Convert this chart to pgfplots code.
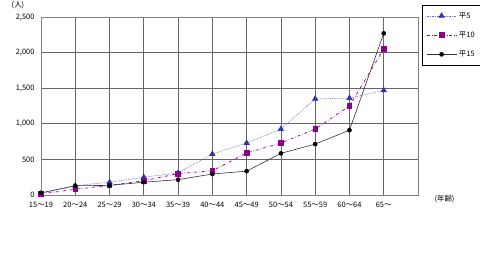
\documentclass[border=0pt]{standalone}
\usepackage{fontspec}
\setmainfont{Noto Sans CJK JP}
\usepackage{pgfplots}
\pgfplotsset{compat=1.18}
\definecolor{c5}{RGB}{50,50,170}
\definecolor{c10}{RGB}{140,0,140}
\begin{document}
\begin{tikzpicture}
\useasboundingbox (-41bp,-71bp) rectangle (439bp,195bp);
\begin{axis}[
  at={(0,0)}, anchor=origin,
  scale only axis, width=377bp, height=178bp,
  xmin=0, xmax=11, ymin=0, ymax=2500,
  xtick={0,...,11},
  xticklabels={15～19,20～24,25～29,30～34,35～39,40～44,45～49,50～54,55～59,60～64,65～},
  ytick={0,500,1000,1500,2000,2500},
  /pgf/number format/1000 sep={,},
  /pgf/number format/assume math mode=true,
  tick label style={font=\fontsize{7.5}{8}\selectfont},
  xticklabel style={yshift=-4bp},
  yticklabel style={xshift=-3bp},
  major tick length=0pt,
  grid=major,
  major grid style={gray!80!black, line width=0.8pt},
  axis line style={gray, line width=0.8pt},
  clip=false,
  legend style={at={(1,1)}, anchor=north west, xshift=4bp, yshift=12bp,
    font=\fontsize{7.5}{8}\selectfont, draw=black, line width=0.5pt,
    row sep=8bp, inner xsep=4bp, inner ysep=5bp},
  legend cell align=left,
  legend image code/.code={\draw[mark repeat=2,mark phase=2,#1] plot coordinates {(0bp,0bp) (15bp,0bp) (30bp,0bp)};},
]
\addplot[c5!70!white, densely dotted, line width=0.7pt, mark=triangle*, mark size=3pt, mark options={solid, fill=c5, draw=c5}]
 coordinates {(0,20) (1,130) (2,180) (3,250) (4,310) (5,575) (6,730) (7,925) (8,1350) (9,1360) (10,1470)};
\addlegendentry{平5}
\addplot[c10, dash dot, line width=0.7pt, mark=square*, mark size=2.3pt, mark options={solid, fill=c10, draw=c10}]
 coordinates {(0,15) (1,80) (2,135) (3,200) (4,300) (5,340) (6,590) (7,730) (8,925) (9,1250) (10,2050)};
\addlegendentry{平10}
\addplot[black!80, solid, line width=0.6pt, mark=*, mark size=2pt, mark options={fill=black, draw=black}]
 coordinates {(0,30) (1,130) (2,135) (3,180) (4,215) (5,295) (6,335) (7,585) (8,715) (9,910) (10,2270)};
\addlegendentry{平15}
\end{axis}
\node[font=\fontsize{7.5}{8}\selectfont, anchor=north, inner sep=0pt] at (-23bp,194bp) {(人)};
\node[font=\fontsize{7.5}{8}\selectfont, anchor=west] at (390bp,-4bp) {(年齢)};
\end{tikzpicture}
\end{document}
